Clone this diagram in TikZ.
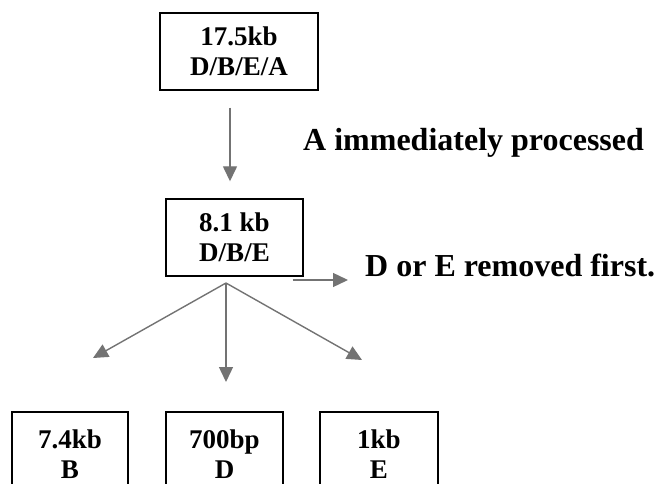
\documentclass[tikz,border=0pt]{standalone}
\usepackage{fontspec}
\setmainfont{Liberation Serif}
\usetikzlibrary{arrows.meta}
\tikzset{
  box/.style={draw, line width=1.4pt, align=center, inner sep=0pt,
    minimum height=77pt, font=\bfseries\fontsize{27}{30}\selectfont},
  lbl/.style={anchor=west, inner sep=0pt, font=\bfseries\fontsize{32}{36}\selectfont},
  arr/.style={draw=black!55, line width=1.4pt,
    -{Triangle[length=15pt,width=14pt]}}
}
\begin{document}
\begin{tikzpicture}[x=1pt, y=-1pt]
	\useasboundingbox (0,0) rectangle (659,484);
	\clip (0,0) rectangle (659,484);
	\node[box, minimum width=158pt] (full) at (239,51.5) {17.5kb\\D/B/E/A};
	\node[box, minimum width=137pt] (mid) at (234.5,237.5) {8.1 kb\\D/B/E};
	\def \yRow {454}
	\node[box, minimum width=116pt, minimum height=84pt] (b) at (70,\yRow) {7.4kb\\B};
	\node[box, minimum width=117pt, minimum height=84pt] (d) at (224.5,\yRow) {700bp\\D};
	\node[box, minimum width=118pt, minimum height=84pt] (e) at (379,\yRow) {1kb\\E};
	\node[lbl] (proc) at (303,143) {A immediately processed};
	\node[lbl] (rem) at (365,265) {D or E removed first.};
	\coordinate (fan) at (226,283);
	\coordinate (remtip) at (348,280);
	\coordinate (btip) at (93,358);
	\coordinate (dtip) at (226,382);
	\coordinate (etip) at (362,360);
	\draw[arr] ([xshift=-9pt,yshift=-17pt]full.south) -- ([xshift=-4.5pt,yshift=17pt]mid.north);
	\draw[arr] ([xshift=-11pt,yshift=-3.3pt]mid.south east) -- (remtip);
	\draw[arr] (fan) -- (btip);
	\draw[arr] (fan) -- (dtip);
	\draw[arr] (fan) -- (etip);
\end{tikzpicture}
\end{document}
